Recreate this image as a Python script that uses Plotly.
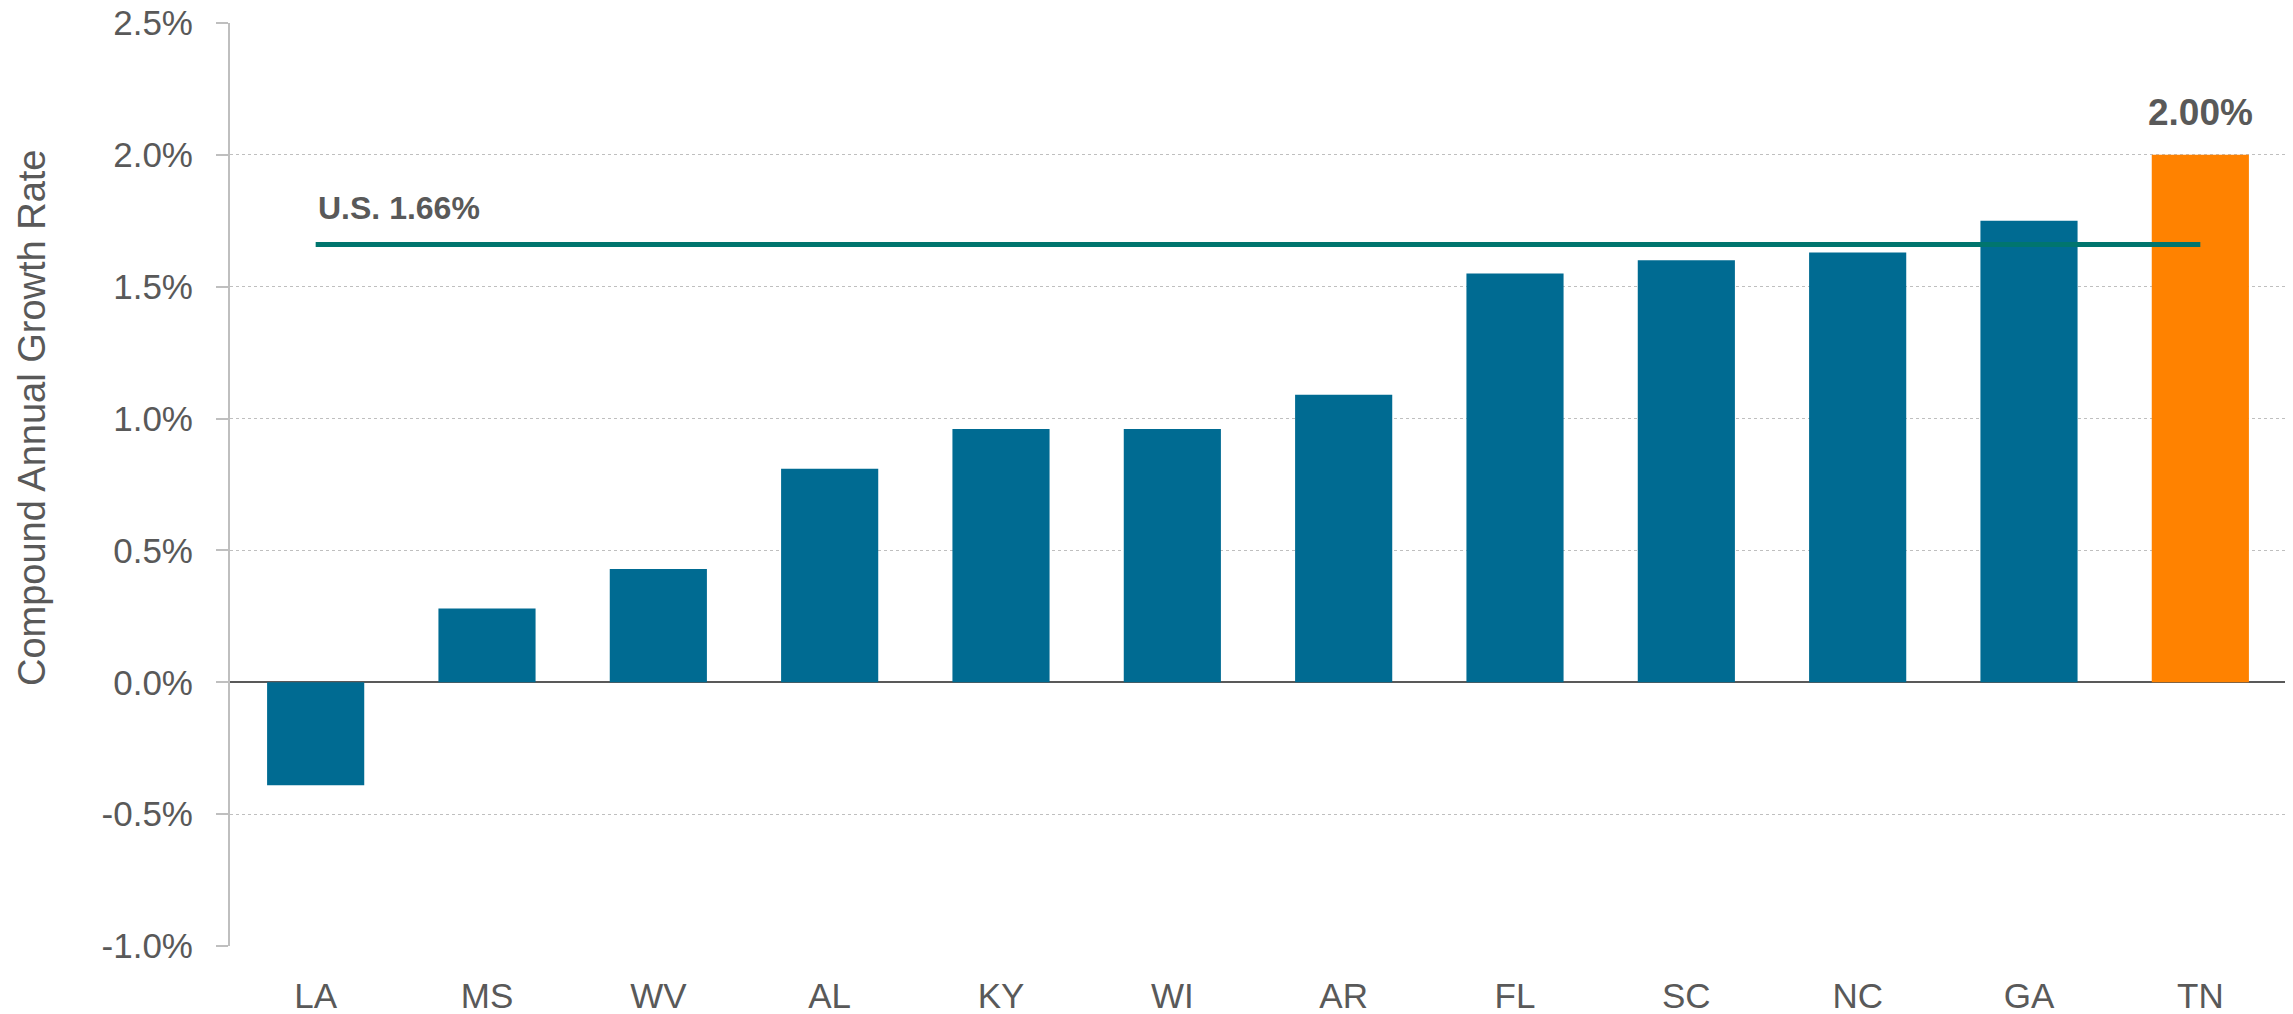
import plotly.graph_objects as go

states = ["LA", "MS", "WV", "AL", "KY", "WI", "AR", "FL", "SC", "NC", "GA", "TN"]
cagr = [-0.39, 0.28, 0.43, 0.81, 0.96, 0.96, 1.09, 1.55, 1.60, 1.63, 1.75, 2.00]
highlight = "TN"
us_rate = 1.66
y_ticks = [-1.0, -0.5, 0.0, 0.5, 1.0, 1.5, 2.0, 2.5]
y_tick_labels = ["-1.0%", "-0.5%", "0.0%", "0.5%", "1.0%", "1.5%", "2.0%", "2.5%"]

BLUE = "#006B92"
ORANGE = "#FF8200"
TEAL = "#00756E"
GRAY = "#595959"
LIGHT = "#BFBFBF"
FONT = "Arial, Liberation Sans, sans-serif"

colors = [ORANGE if s == highlight else BLUE for s in states]

fig = go.Figure()
fig.add_trace(go.Bar(x=states, y=cagr, marker=dict(color=colors, line=dict(width=0)),
                     hoverinfo="x+y", showlegend=False))
fig.add_trace(go.Scatter(x=[states[0], states[-1]], y=[us_rate, us_rate], mode="lines",
                         line=dict(color=TEAL, width=5), showlegend=False, hoverinfo="skip"))

fig.add_annotation(x=states[0], y=us_rate, xref="x", yref="y", text="<b>U.S. %.2f%%</b>" % us_rate,
                   showarrow=False, xanchor="left", yanchor="bottom", xshift=0, yshift=17,
                   font=dict(family=FONT, size=32, color=GRAY))
hi_idx = states.index(highlight)
fig.add_annotation(x=highlight, y=cagr[hi_idx], xref="x", yref="y", text="<b>%.2f%%</b>" % cagr[hi_idx],
                   showarrow=False, xanchor="center", yanchor="bottom", yshift=20,
                   font=dict(family=FONT, size=37, color=GRAY))
fig.add_annotation(x=-0.0963, y=0.572, xref="paper", yref="paper", text="Compound Annual Growth Rate",
                   textangle=-90, showarrow=False, xanchor="center", yanchor="middle",
                   font=dict(family=FONT, size=38, color=GRAY))

fig.update_layout(
    width=2285, height=1006,
    margin=dict(l=222, r=7, t=15, b=68, autoexpand=False),
    plot_bgcolor="white", paper_bgcolor="white",
    bargap=0.433,
    font=dict(family=FONT, color=GRAY),
    xaxis=dict(showgrid=False, showline=False, ticks="", tickfont=dict(size=35, color=GRAY),
               ticklabelstandoff=26, fixedrange=True, automargin=False),
    yaxis=dict(range=[-1.0, 2.5], tickvals=y_ticks, ticktext=y_tick_labels,
               tickfont=dict(size=35, color=GRAY),
               showgrid=True, gridcolor=LIGHT, griddash="dot", gridwidth=1,
               showline=True, linecolor=LIGHT, linewidth=2,
               ticks="outside", ticklen=12, tickcolor=LIGHT, tickwidth=2,
               ticklabelstandoff=16, ticklabeloverflow="allow", automargin=False,
               zeroline=True, zerolinecolor=GRAY, zerolinewidth=2),
)

fig.write_html("out.html")
